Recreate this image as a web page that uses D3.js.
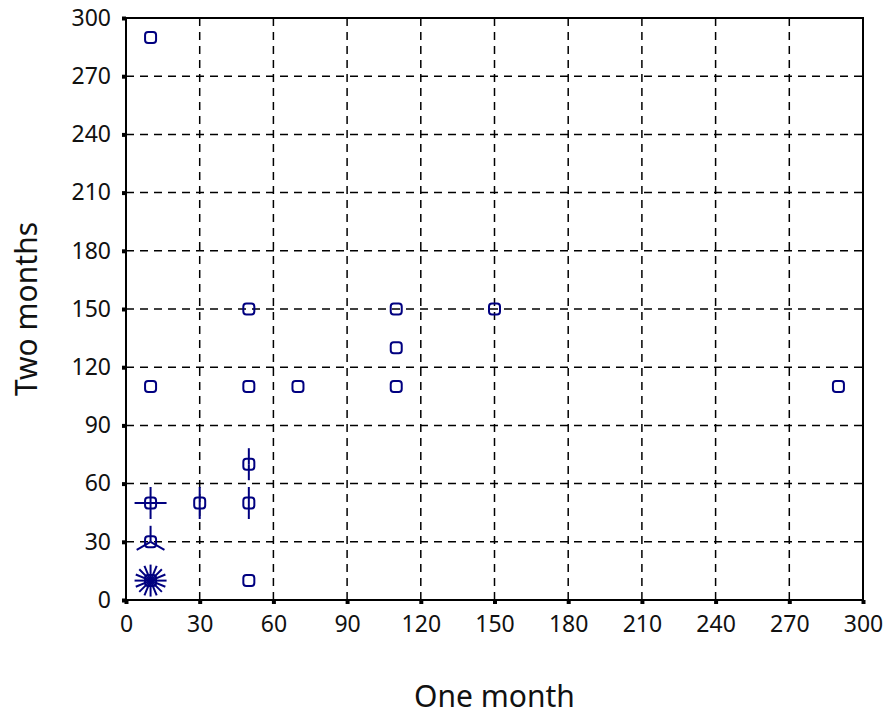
<!DOCTYPE html>
<html>
<head>
<meta charset="utf-8">
<script src="https://cdn.jsdelivr.net/npm/d3@7"></script>
<style>
  body { margin: 0; background: #fff; }
  text { font-family: "Noto Sans", "Open Sans", sans-serif; }
</style>
</head>
<body>
<div class="chart"></div>
<script>
var svgWidth = 887;
var svgHeight = 715;

var margin = { top: 18, right: 24, bottom: 115, left: 126 };

var width = svgWidth - margin.left - margin.right;
var height = svgHeight - margin.top - margin.bottom;

// data: one point per distinct (one month, two months) pair, with its count
var oneMonth  = [10, 10, 10, 10, 10, 30, 50, 50, 50, 50, 50, 70, 110, 110, 110, 150, 290];
var twoMonths = [290, 110, 50, 30, 10, 50, 150, 110, 70, 50, 10, 110, 150, 130, 110, 150, 110];
var counts    = [1, 1, 4, 3, 16, 2, 1, 1, 2, 2, 1, 1, 1, 1, 1, 1, 1];
var tickValues = [0, 30, 60, 90, 120, 150, 180, 210, 240, 270, 300];

var data = oneMonth.map(function (d, i) {
  return { x: d, y: twoMonths[i], n: counts[i] };
});

var svg = d3.select(".chart")
  .append("svg")
  .attr("width", svgWidth)
  .attr("height", svgHeight);

var chartGroup = svg.append("g")
  .attr("transform", `translate(${margin.left}, ${margin.top})`);

var xScale = d3.scaleLinear().domain([0, 300]).range([0, width]);
var yScale = d3.scaleLinear().domain([0, 300]).range([height, 0]);

// dashed grid
chartGroup.append("g")
  .selectAll("line")
  .data(tickValues.slice(1, -1))
  .enter()
  .append("line")
  .attr("x1", d => xScale(d))
  .attr("x2", d => xScale(d))
  .attr("y1", 0)
  .attr("y2", height)
  .attr("stroke", "#000")
  .attr("stroke-width", 1.5)
  .attr("stroke-dasharray", "8,6");

chartGroup.append("g")
  .selectAll("line")
  .data(tickValues.slice(1, -1))
  .enter()
  .append("line")
  .attr("x1", 0)
  .attr("x2", width)
  .attr("y1", d => yScale(d))
  .attr("y2", d => yScale(d))
  .attr("stroke", "#000")
  .attr("stroke-width", 1.5)
  .attr("stroke-dasharray", "8,6");

// frame
chartGroup.append("rect")
  .attr("x", 0)
  .attr("y", 0)
  .attr("width", width)
  .attr("height", height)
  .attr("fill", "none")
  .attr("stroke", "#000")
  .attr("stroke-width", 2);

// axes
var bottomAxis = d3.axisBottom(xScale).tickValues(tickValues).tickSize(4).tickPadding(12);
var leftAxis = d3.axisLeft(yScale).tickValues(tickValues).tickSize(4).tickPadding(11);

var xAxis = chartGroup.append("g")
  .attr("transform", `translate(0, ${height})`)
  .call(bottomAxis);

var yAxis = chartGroup.append("g")
  .call(leftAxis);

[xAxis, yAxis].forEach(function (ax) {
  ax.select(".domain").remove();
  ax.selectAll(".tick line").attr("stroke", "#000").attr("stroke-width", 4);
  ax.selectAll(".tick text")
    .style("font-size", "23px")
    .attr("fill", "#111");
});

// axis labels
chartGroup.append("text")
  .attr("x", width / 2)
  .attr("y", height + 107)
  .attr("text-anchor", "middle")
  .attr("font-size", "30px")
  .attr("fill", "#111")
  .text("One month");

chartGroup.append("text")
  .attr("transform", "rotate(-90)")
  .attr("x", -height / 2)
  .attr("y", -margin.left + 37)
  .attr("text-anchor", "middle")
  .attr("font-size", "30px")
  .attr("fill", "#111")
  .text("Two months");

// sunflowers
var navy = "#000080";
var petalLen = 16;

var flowers = chartGroup.append("g")
  .selectAll("g")
  .data(data)
  .enter()
  .append("g")
  .attr("transform", d => `translate(${xScale(d.x)}, ${yScale(d.y)})`);

flowers.each(function (d) {
  if (d.n < 2) return;
  var angles = d3.range(d.n).map(k => k * 2 * Math.PI / d.n);
  d3.select(this).selectAll("line")
    .data(angles)
    .enter()
    .append("line")
    .attr("x1", 0)
    .attr("y1", 0)
    .attr("x2", a => petalLen * Math.sin(a))
    .attr("y2", a => -petalLen * Math.cos(a))
    .attr("stroke", navy)
    .attr("stroke-width", 2);
});

flowers.append("rect")
  .attr("x", -5.5)
  .attr("y", -5.5)
  .attr("width", 11)
  .attr("height", 11)
  .attr("rx", 3)
  .attr("fill", "none")
  .attr("stroke", navy)
  .attr("stroke-width", 2);
</script>
</body>
</html>
